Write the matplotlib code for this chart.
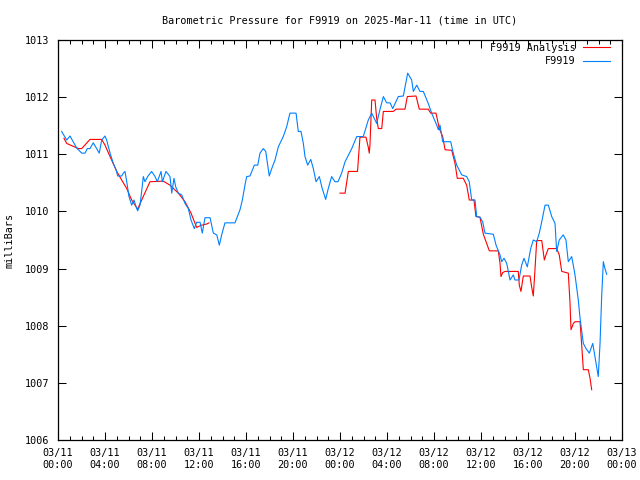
import matplotlib
matplotlib.use("Agg")
import matplotlib.pyplot as plt
from matplotlib.ticker import MultipleLocator

# hours since 2025-03-11 00:00 UTC, pressure in mb
blue_hours = [0.31, 0.74, 1.02, 1.59, 2.02, 2.30, 2.49, 2.72, 3.00, 3.29, 3.51, 3.72, 4.00, 4.14,
              4.43, 4.71, 4.94, 5.08, 5.42, 5.56, 5.70, 5.85, 6.04, 6.27, 6.47, 6.61, 6.78, 6.98,
              7.12, 7.26, 7.40, 7.63, 7.97, 8.26, 8.45, 8.77, 8.88, 9.19, 9.53, 9.68, 9.87, 10.02,
              10.24, 10.53, 10.81, 11.09, 11.32, 11.60, 11.80, 12.09, 12.28, 12.51, 12.94, 13.22,
              13.51, 13.73, 13.93, 14.21, 15.06, 15.49, 15.69, 15.91, 16.06, 16.34, 16.71, 17.00,
              17.19, 17.47, 17.68, 17.85, 17.98, 18.19, 18.47, 18.75, 19.17, 19.46, 19.74, 20.26,
              20.45, 20.68, 20.88, 21.02, 21.25, 21.51, 21.73, 21.96, 22.24, 22.49, 22.78, 23.00,
              23.29, 23.57, 23.83, 24.14, 24.43, 25.00, 25.42, 25.98, 26.41, 26.70, 27.12, 27.40,
              27.69, 27.97, 28.26, 28.49, 28.96, 29.39, 29.76, 30.10, 30.24, 30.53, 30.81, 31.09,
              31.51, 31.80, 32.23, 32.37, 32.51, 32.74, 33.42, 33.64, 33.93, 34.36, 34.78, 35.00,
              35.21, 35.49, 35.63, 35.91, 36.14, 36.34, 37.05, 37.28, 37.62, 37.76, 37.96, 38.19,
              38.47, 38.75, 38.89, 39.23, 39.46, 39.66, 39.94, 40.23, 40.45, 40.74, 40.96, 41.17,
              41.45, 41.73, 42.02, 42.30, 42.44, 42.66, 43.00, 43.23, 43.43, 43.72, 44.00, 44.28,
              44.43, 44.71, 44.94, 45.22, 45.51, 45.70, 45.85, 45.98, 46.13, 46.27, 46.41, 46.55,
              46.70]
blue_mb = [1011.40, 1011.25, 1011.32, 1011.11, 1011.02, 1011.02, 1011.10, 1011.10, 1011.20, 1011.10,
           1011.02, 1011.25, 1011.32, 1011.25, 1011.02, 1010.84, 1010.73, 1010.62, 1010.62, 1010.67,
           1010.70, 1010.52, 1010.26, 1010.11, 1010.20, 1010.10, 1010.01, 1010.11, 1010.35, 1010.61,
           1010.52, 1010.61, 1010.70, 1010.61, 1010.52, 1010.70, 1010.52, 1010.70, 1010.61, 1010.32,
           1010.58, 1010.43, 1010.32, 1010.29, 1010.14, 1010.05, 1009.85, 1009.70, 1009.81, 1009.81,
           1009.62, 1009.89, 1009.89, 1009.62, 1009.59, 1009.41, 1009.59, 1009.80, 1009.80, 1010.03,
           1010.20, 1010.46, 1010.61, 1010.62, 1010.81, 1010.81, 1011.02, 1011.10, 1011.05, 1010.81,
           1010.62, 1010.75, 1010.90, 1011.13, 1011.31, 1011.48, 1011.72, 1011.72, 1011.40, 1011.40,
           1011.19, 1010.96, 1010.81, 1010.91, 1010.75, 1010.52, 1010.61, 1010.40, 1010.21, 1010.40,
           1010.61, 1010.52, 1010.52, 1010.67, 1010.87, 1011.10, 1011.31, 1011.31, 1011.60, 1011.72,
           1011.54, 1011.78, 1012.01, 1011.90, 1011.90, 1011.80, 1012.01, 1012.02, 1012.42, 1012.30,
           1012.10, 1012.21, 1012.10, 1012.10, 1011.89, 1011.72, 1011.51, 1011.43, 1011.51, 1011.22,
           1011.22, 1011.02, 1010.81, 1010.64, 1010.61, 1010.52, 1010.20, 1010.20, 1009.91, 1009.90,
           1009.82, 1009.62, 1009.60, 1009.41, 1009.24, 1009.12, 1009.18, 1009.09, 1008.80, 1008.89,
           1008.80, 1008.80, 1009.06, 1009.18, 1009.03, 1009.35, 1009.50, 1009.47, 1009.62, 1009.82,
           1010.11, 1010.11, 1009.91, 1009.79, 1009.30, 1009.50, 1009.59, 1009.50, 1009.12, 1009.21,
           1008.89, 1008.45, 1008.13, 1007.69, 1007.60, 1007.52, 1007.69, 1007.46, 1007.28, 1007.11,
           1007.69, 1008.51, 1009.12, 1009.00, 1008.90]

# analysis, first segment (day 1 morning)
red1_hours = [0.51, 0.74, 1.73, 2.02, 2.72, 3.72, 4.00, 4.43, 5.00, 5.42, 5.85, 6.27, 6.78, 7.12,
              7.83, 8.96, 9.53, 10.24, 10.81, 11.32, 11.80, 12.23, 12.66, 12.85]
red1_mb = [1011.28, 1011.19, 1011.10, 1011.10, 1011.26, 1011.26, 1011.16, 1010.96, 1010.70, 1010.55,
           1010.40, 1010.20, 1010.04, 1010.20, 1010.52, 1010.53, 1010.46, 1010.32, 1010.17, 1009.97,
           1009.72, 1009.76, 1009.78, 1009.80]

# analysis, second segment (day 2)
red2_hours = [24.00, 24.43, 24.71, 25.49, 25.70, 26.21, 26.41, 26.49, 26.55, 26.70, 26.98, 27.12,
              27.26, 27.55, 27.69, 28.54, 28.77, 29.53, 29.73, 30.47, 30.75, 31.51, 31.72, 32.17,
              32.45, 32.74, 32.94, 33.51, 33.79, 33.98, 34.49, 34.78, 35.00, 35.40, 35.57, 35.91,
              36.20, 36.71, 37.47, 37.62, 37.70, 37.85, 38.04, 39.17, 39.26, 39.40, 39.60, 40.17,
              40.31, 40.45, 40.60, 40.74, 41.17, 41.39, 41.53, 41.73, 42.44, 42.66, 42.87, 43.43,
              43.57, 43.66, 43.86, 44.00, 44.43, 44.57, 44.71, 45.13, 45.28, 45.42]
red2_mb = [1010.32, 1010.32, 1010.70, 1010.70, 1011.30, 1011.30, 1011.12, 1011.02, 1011.16, 1011.95,
           1011.95, 1011.63, 1011.45, 1011.45, 1011.75, 1011.75, 1011.79, 1011.79, 1012.01, 1012.02,
           1011.79, 1011.79, 1011.72, 1011.72, 1011.45, 1011.31, 1011.08, 1011.07, 1010.84, 1010.58,
           1010.58, 1010.46, 1010.20, 1010.20, 1009.91, 1009.90, 1009.60, 1009.31, 1009.31, 1009.09,
           1008.86, 1008.93, 1008.95, 1008.95, 1008.71, 1008.60, 1008.87, 1008.87, 1008.68, 1008.52,
           1009.00, 1009.49, 1009.49, 1009.15, 1009.24, 1009.35, 1009.35, 1009.24, 1008.95, 1008.92,
           1008.42, 1007.93, 1008.04, 1008.07, 1008.07, 1007.66, 1007.23, 1007.23, 1007.08, 1006.88]

tick_hours = [0, 4, 8, 12, 16, 20, 24, 28, 32, 36, 40, 44, 48]
tick_labels = ["03/11\n00:00", "03/11\n04:00", "03/11\n08:00", "03/11\n12:00", "03/11\n16:00",
               "03/11\n20:00", "03/12\n00:00", "03/12\n04:00", "03/12\n08:00", "03/12\n12:00",
               "03/12\n16:00", "03/12\n20:00", "03/13\n00:00"]

plt.rcParams['font.family'] = ['DejaVu Sans Mono']
plt.rcParams['font.size'] = 7.3

fig = plt.figure(figsize=(6.4, 4.8), dpi=100)
ax = fig.add_axes([58 / 640, 40 / 480, 564 / 640, 400 / 480])

lw = 0.8
ax.plot(red1_hours, red1_mb, color='#ff0000', lw=lw, label='F9919 Analysis')
ax.plot(red2_hours, red2_mb, color='#ff0000', lw=lw)
ax.plot(blue_hours, blue_mb, color='#0080ff', lw=lw, label='F9919')

ax.set_xlim(0, 48)
ax.set_ylim(1006, 1013)
ax.set_xticks(tick_hours)
ax.set_xticklabels(tick_labels)
ax.xaxis.set_minor_locator(MultipleLocator(1))
ax.yaxis.set_major_locator(MultipleLocator(1))
ax.yaxis.set_major_formatter(matplotlib.ticker.FormatStrFormatter('%d'))

ax.tick_params(which='both', direction='in', top=True, right=True, width=0.75, color='black')
ax.tick_params(which='major', length=6, pad=6)
ax.tick_params(which='minor', length=3)
for s in ax.spines.values():
    s.set_linewidth(0.9)

ax.set_ylabel('milliBars', labelpad=8)
ax.set_title('Barometric Pressure for F9919 on 2025-Mar-11 (time in UTC)', pad=12, fontsize=7.3)

ax.legend(loc='upper right', bbox_to_anchor=(0.979, 0.993), frameon=False, markerfirst=False,
          handlelength=2.7, borderpad=0, borderaxespad=0, labelspacing=0.35, handletextpad=0.7)

fig.savefig('out.png', dpi=100)
